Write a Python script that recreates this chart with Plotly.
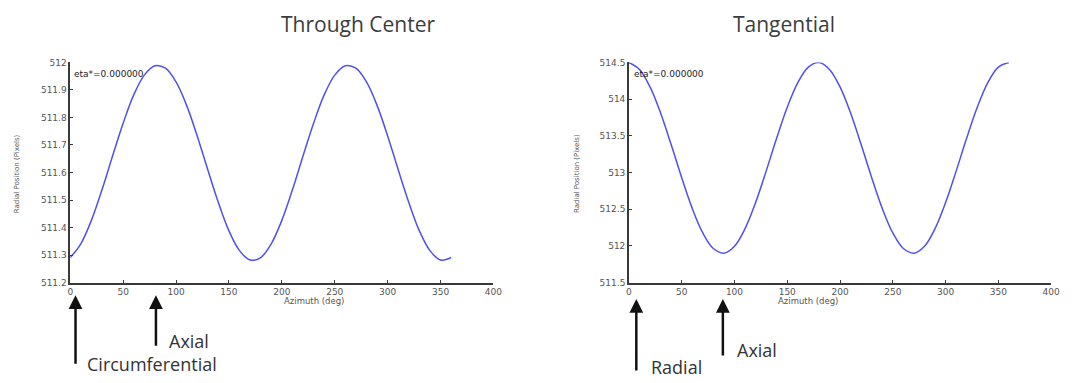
import plotly.graph_objects as go

W, H = 1073, 383

# Azimuth samples (deg)
azimuth = [0, 10, 20, 30, 40, 50, 60, 70, 80, 90, 100, 110, 120, 130, 140, 150, 160, 170, 180,
           190, 200, 210, 220, 230, 240, 250, 260, 270, 280, 290, 300, 310, 320, 330, 340, 350, 360]

# Radial position (pixels), beam through center
radial_center = [511.291, 511.341, 511.426, 511.537, 511.660, 511.779, 511.882, 511.954, 511.988,
                 511.979, 511.929, 511.844, 511.733, 511.610, 511.491, 511.388, 511.316, 511.282,
                 511.291, 511.341, 511.426, 511.537, 511.660, 511.779, 511.882, 511.954, 511.988,
                 511.979, 511.929, 511.844, 511.733, 511.610, 511.491, 511.388, 511.316, 511.282,
                 511.291]

# Radial position (pixels), tangential beam
radial_tangential = [514.499, 514.405, 514.166, 513.810, 513.381, 512.930, 512.511, 512.176, 511.964,
                     511.901, 511.995, 512.234, 512.590, 513.019, 513.470, 513.889, 514.224, 514.436,
                     514.499, 514.405, 514.166, 513.810, 513.381, 512.930, 512.511, 512.176, 511.964,
                     511.901, 511.995, 512.234, 512.590, 513.019, 513.470, 513.889, 514.224, 514.436,
                     514.499]

x_ticks = [0, 50, 100, 150, 200, 250, 300, 350, 400]
y_ticks_center = [511.2, 511.3, 511.4, 511.5, 511.6, 511.7, 511.8, 511.9, 512.0]
y_labels_center = ["511.2", "511.3", "511.4", "511.5", "511.6", "511.7", "511.8", "511.9", "512"]
y_ticks_tang = [511.5, 512.0, 512.5, 513.0, 513.5, 514.0, 514.5]
y_labels_tang = ["511.5", "512", "512.5", "513", "513.5", "514", "514.5"]

panel_titles = ["Through Center", "Tangential"]
eta_text = "eta*=0.000000"

# Direction markers under each panel: (label, azimuth)
center_markers = [("Circumferential", 5), ("Axial", 81)]
tang_markers = [("Radial", 7), ("Axial", 89)]


def px(x):
    return x / W


def py(y):
    return 1 - y / H


LINE = "#5050f0"
AXIS = "#3a3a3a"
TICKFONT = dict(family="DejaVu Sans", size=9, color="#555555")

fig = go.Figure()
fig.add_trace(go.Scatter(x=azimuth, y=radial_center, mode="lines", line=dict(color=LINE, width=1.5, shape="spline"),
                         xaxis="x", yaxis="y", showlegend=False))
fig.add_trace(go.Scatter(x=azimuth, y=radial_tangential, mode="lines", line=dict(color=LINE, width=1.5, shape="spline"),
                         xaxis="x2", yaxis="y2", showlegend=False))

xcommon = dict(range=[0, 400], tickvals=x_ticks, showgrid=False, zeroline=False, showline=True,
               linecolor=AXIS, linewidth=1.5, ticks="inside", ticklen=3, tickcolor=AXIS, tickfont=TICKFONT)
ycommon = dict(showgrid=False, zeroline=False, showline=True, linecolor=AXIS, linewidth=1.5,
               ticks="inside", ticklen=3, tickcolor=AXIS, tickfont=TICKFONT)

y_dom = [py(285), py(59)]
fig.update_layout(
    width=W, height=H,
    margin=dict(l=0, r=0, t=0, b=0),
    paper_bgcolor="white", plot_bgcolor="white",
    xaxis=dict(domain=[px(68), px(496)], anchor="y", **xcommon),
    yaxis=dict(domain=y_dom, anchor="x", range=[511.2, 512.0], tickvals=y_ticks_center,
               ticktext=y_labels_center, **ycommon),
    xaxis2=dict(domain=[px(633), px(1060)], anchor="y2", **xcommon),
    yaxis2=dict(domain=y_dom, anchor="x2", range=[511.5, 514.5], tickvals=y_ticks_tang,
                ticktext=y_labels_tang, **ycommon),
)

ann = []
# panel titles
for title, cx in zip(panel_titles, [279, 843]):
    ann.append(dict(text=title, x=px(cx), y=py(20), xref="paper", yref="paper", showarrow=False,
                    yanchor="middle", font=dict(family="Open Sans", size=21, color="#3c3c3c")))
# x axis titles
for cx in [282, 846]:
    ann.append(dict(text="Azimuth (deg)", x=px(cx), y=py(304), xref="paper", yref="paper", showarrow=False,
                    yanchor="middle", font=dict(family="DejaVu Sans", size=8.5, color="#555555")))
# y axis titles
for cx in [15, 581]:
    ann.append(dict(text="Radial Position (Pixels)", x=px(cx), y=py(173), xref="paper", yref="paper",
                    showarrow=False, textangle=-90, xanchor="center", yanchor="middle",
                    font=dict(family="DejaVu Sans", size=7, color="#555555")))
# eta labels
for lx in [70, 636]:
    ann.append(dict(text=eta_text, x=px(lx), y=py(71), xref="paper", yref="paper", showarrow=False,
                    xanchor="left", yanchor="middle",
                    font=dict(family="DejaVu Sans", size=9, color="#222222")))

# arrows and direction labels
arrow_specs = [
    ("x", center_markers[0], 298, 368, (83, 369)),
    ("x", center_markers[1], 298, 350, (166, 345)),
    ("x2", tang_markers[0], 302, 375, (653, 372)),
    ("x2", tang_markers[1], 302, 360, (740, 354)),
]
for xref, (label, az), tip, tail, (lx, ly) in arrow_specs:
    ann.append(dict(x=az, y=py(tip), xref=xref, yref="paper", ax=0, ay=tail - tip, text="",
                    showarrow=True, arrowhead=2, arrowsize=1.1, arrowwidth=2.5, arrowcolor="#111111"))
    ann.append(dict(text=label, x=px(lx), y=py(ly), xref="paper", yref="paper", showarrow=False,
                    xanchor="left", yanchor="middle",
                    font=dict(family="Open Sans", size=18, color="#333333")))

fig.update_layout(annotations=ann)
fig.write_html("out.html")
